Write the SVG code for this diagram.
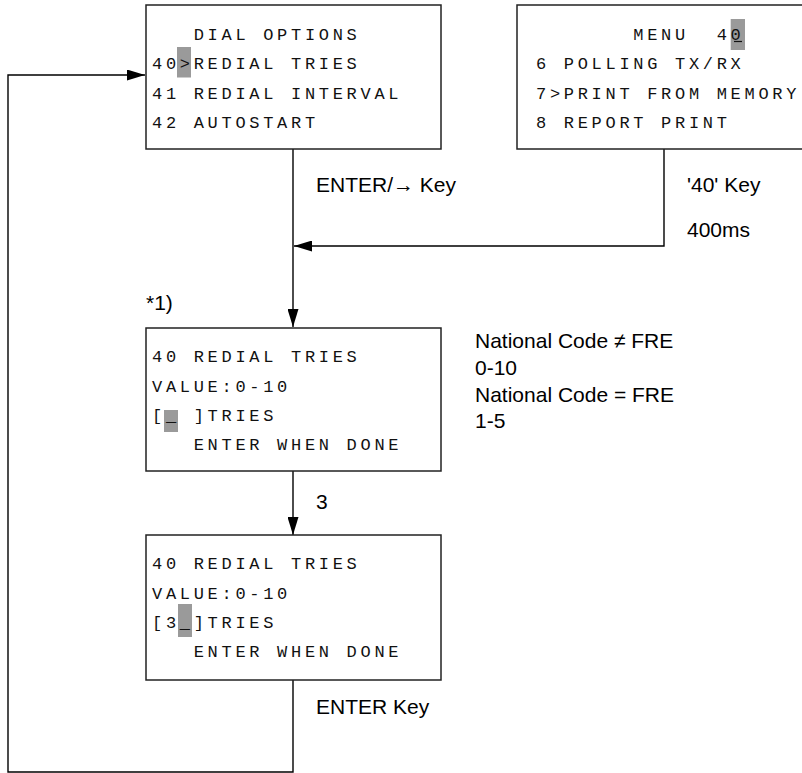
<svg xmlns="http://www.w3.org/2000/svg" width="802" height="773" viewBox="0 0 802 773">
<defs>
<style>
.box{fill:#fff;stroke:#222;stroke-width:1.5}
.hl{fill:#9a9a9a}
.mono{font-family:"Liberation Mono","DejaVu Sans Mono",monospace;font-size:17px;letter-spacing:3.7px;fill:#111}
.lbl{font-family:"Liberation Sans",Arial,sans-serif;font-size:21px;fill:#000}
.ln{fill:none;stroke:#000;stroke-width:1.4}
</style>
<marker id="ah" viewBox="0 0 18 11" refX="18" refY="5.5" markerWidth="18" markerHeight="11" markerUnits="userSpaceOnUse" orient="auto">
<path d="M0,0 L18,5.5 L0,11 Z" fill="#000"/>
</marker>
</defs>
<rect width="802" height="773" fill="#fff"/>

<g id="connectors">
<path class="ln" d="M293,149 V327" marker-end="url(#ah)"/>
<path class="ln" d="M664,149 V246 H294" marker-end="url(#ah)"/>
<path class="ln" d="M293,471 V535" marker-end="url(#ah)"/>
<path class="ln" d="M293,680 V772 H8 V75 H145" marker-end="url(#ah)"/>
</g>

<g id="dial-options">
<rect class="box" x="146" y="5" width="295" height="144"/>
<rect class="hl" x="177" y="47" width="14" height="30.5"/>
<text class="mono" x="193.7" y="39.5">DIAL OPTIONS</text>
<text class="mono" x="152" y="69">40&gt;REDIAL TRIES</text>
<text class="mono" x="152" y="98.5">41 REDIAL INTERVAL</text>
<text class="mono" x="152" y="128">42 AUTOSTART</text>
</g>

<g id="menu">
<rect class="box" x="517" y="5" width="300" height="144"/>
<rect class="hl" x="730.7" y="19" width="14.3" height="31"/>
<text class="mono" x="633.3" y="39.5">MENU</text>
<text class="mono" x="716.7" y="39.5">40</text>
<line x1="734" y1="41.5" x2="742" y2="41.5" stroke="#111" stroke-width="1.2"/>
<text class="mono" x="536" y="69">6 POLLING TX/RX</text>
<text class="mono" x="536" y="98.5">7&gt;PRINT FROM MEMORY</text>
<text class="mono" x="536" y="128">8 REPORT PRINT</text>
</g>

<g id="redial-entry">
<rect class="box" x="146" y="328" width="295" height="143"/>
<rect class="hl" x="164" y="410" width="14" height="22"/>
<text class="mono" x="152" y="362">40 REDIAL TRIES</text>
<text class="mono" x="152" y="392">VALUE:0-10</text>
<text class="mono" x="152" y="421">[_</text>
<text class="mono" x="193.7" y="421">]TRIES</text>
<text class="mono" x="193.7" y="450">ENTER WHEN DONE</text>
</g>

<g id="redial-value">
<rect class="box" x="146" y="535" width="295" height="145"/>
<rect class="hl" x="178" y="604" width="14" height="33"/>
<text class="mono" x="152" y="569">40 REDIAL TRIES</text>
<text class="mono" x="152" y="599">VALUE:0-10</text>
<text class="mono" x="152" y="628">[3_]TRIES</text>
<text class="mono" x="193.7" y="657">ENTER WHEN DONE</text>
</g>

<g id="labels">
<text class="lbl" x="316" y="192">ENTER/→ Key</text>
<text class="lbl" x="687" y="192">'40' Key</text>
<text class="lbl" x="687" y="237">400ms</text>
<text class="lbl" x="146" y="310">*1)</text>
<text class="lbl" x="475" y="348">National Code ≠ FRE</text>
<text class="lbl" x="475" y="375">0-10</text>
<text class="lbl" x="475" y="402">National Code = FRE</text>
<text class="lbl" x="475" y="428">1-5</text>
<text class="lbl" x="316" y="509">3</text>
<text class="lbl" x="316" y="714">ENTER Key</text>
</g>
</svg>
